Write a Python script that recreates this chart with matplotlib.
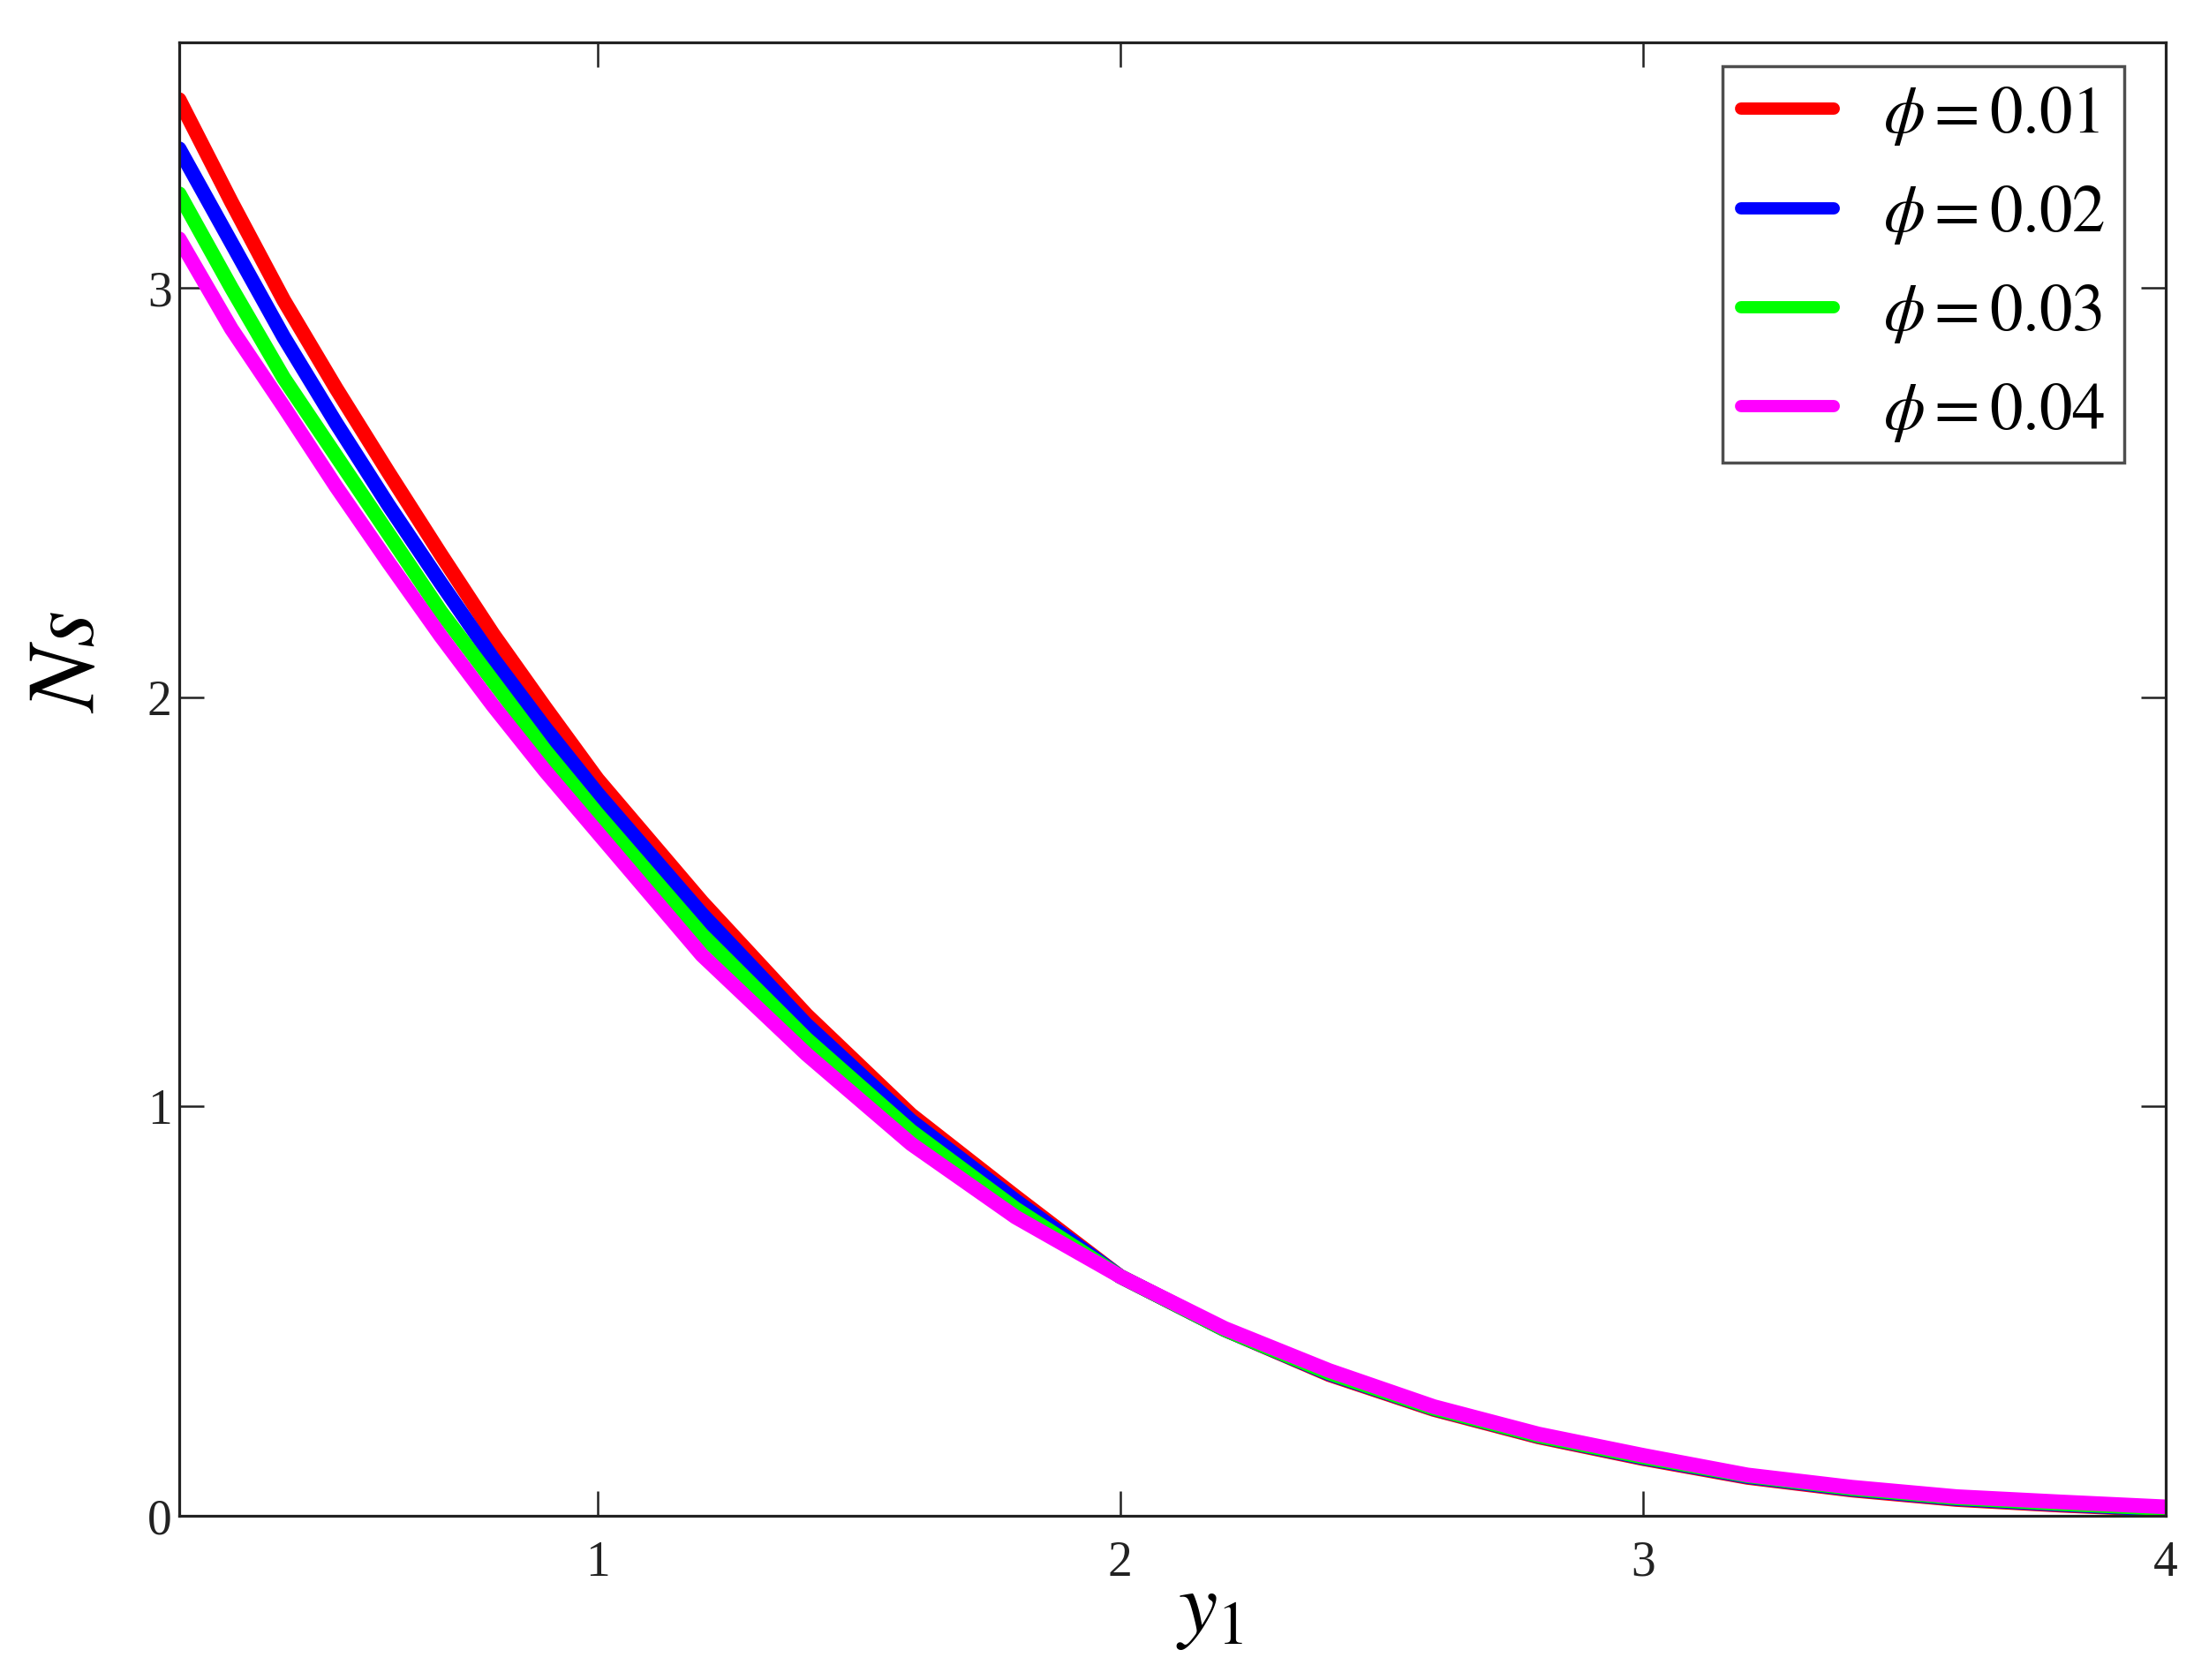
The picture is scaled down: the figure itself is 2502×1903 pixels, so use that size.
import numpy as np
import matplotlib
matplotlib.use('Agg')
import matplotlib.pyplot as plt

plt.rcParams['font.family'] = ['Liberation Serif', 'DejaVu Serif']
plt.rcParams['mathtext.fontset'] = 'stix'

# data
y1 = [0.2, 0.3, 0.4, 0.5, 0.6, 0.7, 0.8, 0.9, 1.0, 1.2, 1.4, 1.6, 1.8,
      2.0, 2.2, 2.4, 2.6, 2.8, 3.0, 3.2, 3.4, 3.6, 3.8, 4.0]

ns_001 = [3.46, 3.21, 2.97, 2.755, 2.55, 2.35, 2.155, 1.975, 1.80, 1.50, 1.224, 0.98, 0.78,
          0.585, 0.455, 0.345, 0.26, 0.193, 0.14, 0.094, 0.063, 0.04, 0.026, 0.015]
ns_002 = [3.34, 3.11, 2.88, 2.67, 2.47, 2.28, 2.095, 1.925, 1.765, 1.47, 1.20, 0.965, 0.77,
          0.585, 0.455, 0.347, 0.262, 0.195, 0.142, 0.096, 0.065, 0.042, 0.028, 0.016]
ns_003 = [3.23, 3.00, 2.78, 2.59, 2.40, 2.21, 2.04, 1.87, 1.715, 1.42, 1.165, 0.94, 0.75,
          0.585, 0.455, 0.349, 0.263, 0.196, 0.144, 0.098, 0.067, 0.044, 0.030, 0.018]
ns_004 = [3.12, 2.90, 2.71, 2.515, 2.33, 2.15, 1.98, 1.82, 1.67, 1.37, 1.128, 0.909, 0.73,
          0.585, 0.458, 0.355, 0.267, 0.20, 0.148, 0.10, 0.07, 0.047, 0.034, 0.022]

labels = [r'$\phi = 0.01$', r'$\phi = 0.02$', r'$\phi = 0.03$', r'$\phi = 0.04$']
colors = ['#ff0000', '#0000ff', '#00ff00', '#ff00ff']

fig = plt.figure(figsize=(25.02, 19.03), dpi=100)
ax = fig.add_axes([0.0811, 0.0977, 0.8993, 0.8771])

for ys, lab, c in zip([ns_001, ns_002, ns_003, ns_004], labels, colors):
    ax.plot(y1, ys, color=c, lw=12, label=lab, solid_capstyle='round')

ax.set_xlim(0.2, 4)
ax.set_ylim(0, 3.6)
ax.set_xticks([1, 2, 3, 4])
ax.set_yticks([0, 1, 2, 3])

for s in ax.spines.values():
    s.set_linewidth(2.3)
    s.set_color('#222222')

ax.tick_params(axis='both', direction='in', length=20, width=1.8,
               top=True, right=True, labelsize=40, colors='#222222')
ax.tick_params(axis='x', pad=20)
ax.tick_params(axis='y', pad=6)

leg = ax.legend(loc='upper right', bbox_to_anchor=(0.979, 0.984), fontsize=54,
                frameon=True, fancybox=False, borderaxespad=0, borderpad=0.28,
                handlelength=1.4, handletextpad=0.75, labelspacing=0.55)
leg.get_frame().set_edgecolor('#222222')
leg.get_frame().set_linewidth(2.5)
for line in leg.get_lines():
    line.set_linewidth(10)

fig.text(80 / 2502, 1 - 750 / 1903, r'$Ns$', fontsize=78, rotation=90,
         ha='center', va='center')
fig.text(1370 / 2502, 1 - 1826 / 1903, r'$y_1$', fontsize=72,
         ha='center', va='center')

fig.savefig('out.png', dpi=100)
